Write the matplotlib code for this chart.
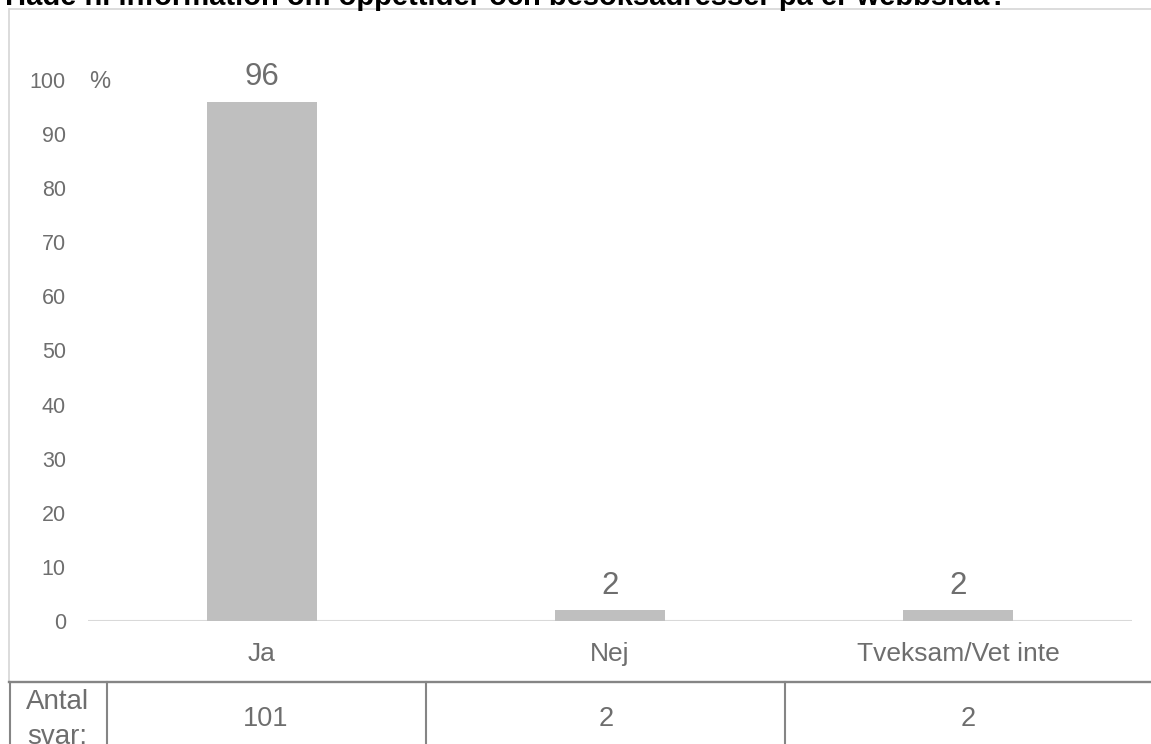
import matplotlib
matplotlib.use("Agg")
import matplotlib.pyplot as plt
from matplotlib.patches import Rectangle
from matplotlib.lines import Line2D

# ── Data ───────────────────────────────────────────
categories = ["Ja", "Nej", "Tveksam/Vet inte"]
percent = [96, 2, 2]
antal_svar = [101, 2, 2]
yticks = list(range(0, 101, 10))
title = "Hade ni information om öppettider och besöksadresser på er webbsida?"

# ── Style ──────────────────────────────────────────
BAR = "#bfbfbf"
TXT = "#6e6e6e"
FRAME = "#d9d9d9"
TABLE_LINE = "#858585"

plt.rcParams["font.family"] = ["Liberation Sans", "DejaVu Sans"]

W, H = 1151, 744
fig = plt.figure(figsize=(W / 100, H / 100), dpi=100)


def fx(px):
    return px / W


def fy(py):
    return 1 - py / H


# outer chart frame (runs off the right edge)
fig.patches.append(Rectangle((fx(9), fy(682)), fx(1160) - fx(9), fy(9) - fy(682),
                             transform=fig.transFigure, fill=False,
                             edgecolor=FRAME, linewidth=1.3))

# title, clipped at the top as in the source
fig.text(fx(5), fy(5), title, ha="left", va="baseline", fontsize=21,
         fontweight="bold", color="black")

ax = fig.add_axes([fx(88), fy(621), fx(1132) - fx(88), fy(80) - fy(621)])
x = list(range(len(categories)))
ax.bar(x, percent, width=0.316, color=BAR, zorder=2)
ax.set_xlim(-0.5, len(categories) - 0.5)
ax.set_ylim(0, 100)
ax.axhline(0, color=FRAME, linewidth=1.5, zorder=1)

for xi, v in zip(x, percent):
    ax.annotate(f"{v}", (xi, v), xytext=(0, 12), textcoords="offset points",
                ha="center", va="baseline", fontsize=22.5, color=TXT)

ax.set_yticks(yticks)
ax.set_yticklabels([str(t) for t in yticks], fontsize=15.5, color=TXT)
ax.set_xticks(x)
ax.set_xticklabels(categories, fontsize=19, color=TXT)
ax.tick_params(axis="y", length=0, pad=16)
ax.tick_params(axis="x", length=0, pad=15)
for s in ax.spines.values():
    s.set_visible(False)
# % sign level with the top tick label
ax.text((100 - 88) / (1132 - 88), 100, "%", transform=ax.get_yaxis_transform(),
        ha="center", va="center_baseline", fontsize=17, color=TXT)

# "Antal svar" table under the chart
fig.lines.append(Line2D([fx(9), fx(1151)], [fy(682), fy(682)],
                        transform=fig.transFigure, color=TABLE_LINE, linewidth=1.7))
for px in [10, 107, 426, 785]:
    fig.lines.append(Line2D([fx(px), fx(px)], [fy(682), fy(750)],
                            transform=fig.transFigure, color=TABLE_LINE, linewidth=1.5))

fig.text(fx(57), fy(702), "Antal", ha="center", va="center", fontsize=20, color=TXT)
fig.text(fx(57), fy(737), "svar:", ha="center", va="center", fontsize=20, color=TXT)
col_centers = [266, 606, 968]
for cx, n in zip(col_centers, antal_svar):
    fig.text(fx(cx), fy(719), f"{n}", ha="center", va="center", fontsize=19.5, color=TXT)

fig.savefig("out.png", dpi=100, facecolor="white")
